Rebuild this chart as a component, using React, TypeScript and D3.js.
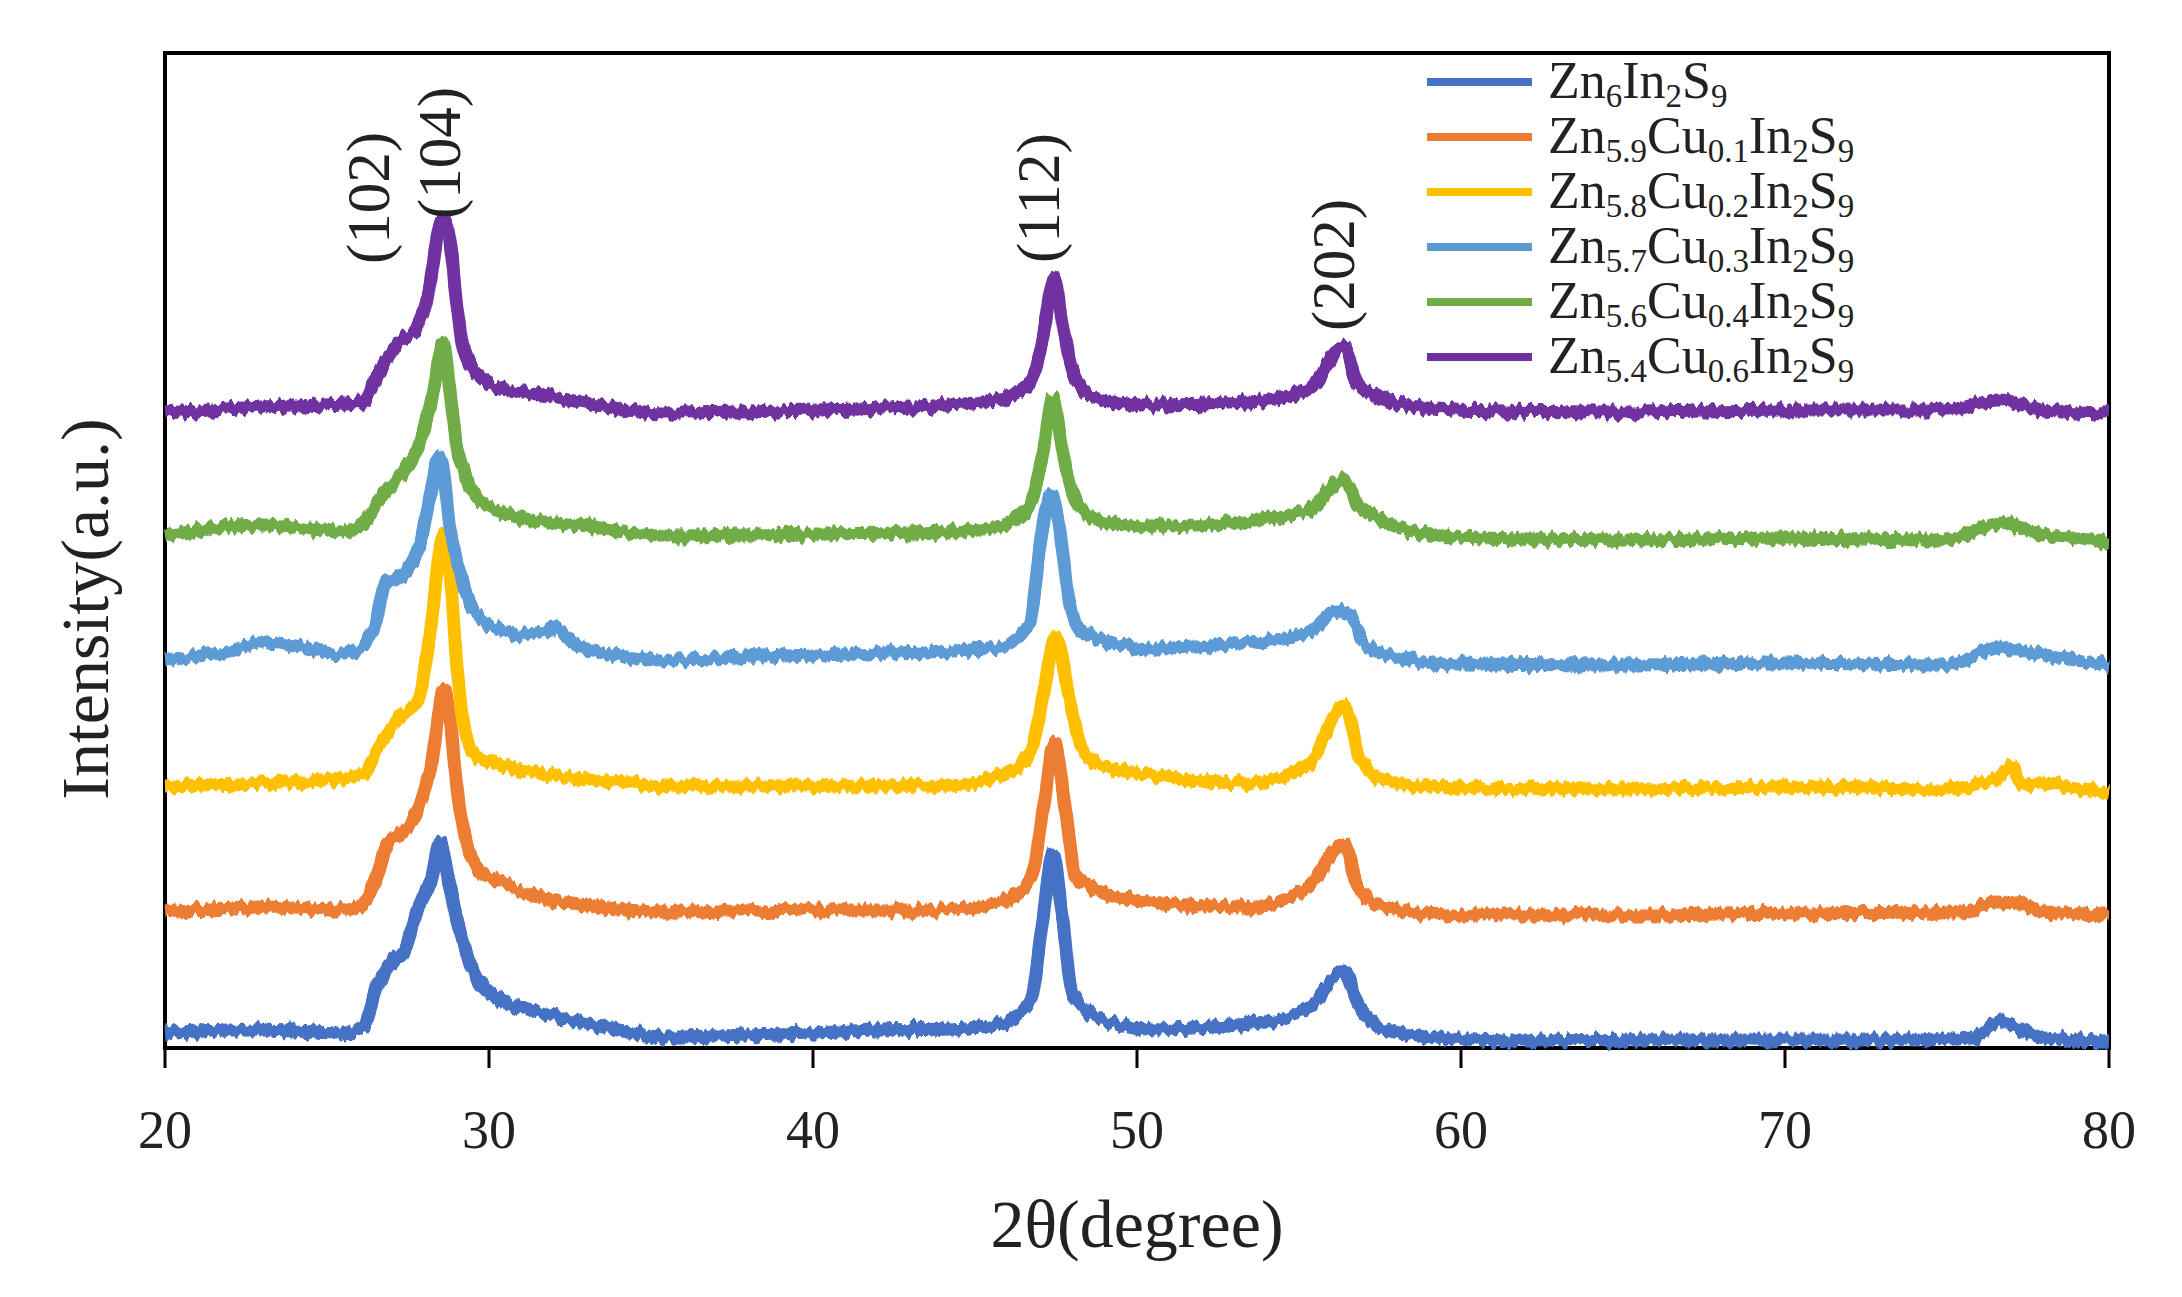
import React from 'react';
import * as d3 from 'd3';

type Pt = [number, number];

// 2θ (degree) vs intensity (a.u., stacked offsets included)
const zn6In2S9: Pt[] = [[20,15],[22,18],[24,17],[25.5,15],[26.1,21],[26.6,66],[26.9,82],[27.4,99],[27.8,139],[28.2,167],[28.5,206],[28.8,161],[29.2,105],[29.7,66],[30.3,49],[31.3,38],[32.8,26],[34,18],[35.4,11],[38,13],[40,15],[42,18],[44.2,19],[45.8,24],[46.7,46],[47.1,130],[47.4,194],[47.7,130],[48.0,56],[48.8,30],[50.4,19],[53.5,24],[55.3,40],[56.4,77],[56.8,46],[57.6,19],[59.7,9],[62,7],[66,8],[70,8],[74,8],[75.8,10],[76.6,27],[77.3,18],[78,10],[80,7]];
const zn59Cu01: Pt[] = [[20,136],[23,141],[25.5,138],[26.1,144],[26.6,178],[26.9,206],[27.4,217],[27.8,239],[28.2,279],[28.6,357],[28.8,329],[29.0,262],[29.3,206],[29.7,178],[30.3,167],[31.3,153],[32.8,144],[35.4,136],[40,138],[44.2,138],[45.8,146],[46.7,167],[47.1,236],[47.45,305],[47.8,236],[48.1,172],[48.8,157],[50.4,146],[53.5,141],[55.3,162],[56.4,204],[56.8,162],[57.6,141],[59.7,133],[65,133],[70,135],[75.5,136],[76.4,146],[77.2,145],[78,136],[80,133]];
const zn58Cu02: Pt[] = [[20,262],[23,265],[25.5,270],[26.1,273],[26.6,301],[27.2,329],[27.8,346],[28.2,419],[28.6,514],[28.8,475],[29.0,385],[29.3,312],[29.7,290],[30.3,284],[31.3,276],[32.8,270],[35.4,262],[40,262],[44.2,262],[45.8,273],[46.7,294],[47.1,352],[47.5,411],[47.9,352],[48.3,299],[48.8,284],[50.4,273],[53.5,265],[55.3,284],[56.4,342],[56.9,289],[57.6,268],[59.7,260],[65,259],[70,261],[75,259],[76.5,270],[77.0,281],[77.3,264],[78.5,262],[80,255]];
const zn57Cu03: Pt[] = [[20,388],[22,397],[23,405],[24,402],[25.5,394],[26.1,402],[26.5,425],[26.8,464],[27.4,475],[27.9,509],[28.2,554],[28.4,587],[28.5,590],[28.8,520],[29.2,464],[29.7,430],[30.3,419],[31,413],[32,419],[32.8,402],[35.4,388],[40,393],[44.2,397],[45.8,400],[46.7,426],[47.0,501],[47.35,553],[47.6,522],[47.9,448],[48.3,416],[50.4,400],[53.5,405],[55.3,416],[56.2,437],[56.6,432],[57.0,405],[57.6,395],[59.7,384],[65,383],[70,385],[75,383],[76.6,401],[78,393],[80,383]];
const zn56Cu04: Pt[] = [[20,512],[23,523],[25.5,517],[26.1,523],[26.6,548],[27.2,571],[27.8,599],[28.2,644],[28.6,705],[28.8,655],[29.0,604],[29.3,571],[29.7,548],[30.3,537],[31.3,528],[32.8,523],[35.4,512],[40,514],[44.2,516],[45.8,522],[46.7,543],[47.1,596],[47.4,649],[47.7,596],[48.1,548],[48.8,527],[50.4,522],[53.5,527],[55.3,538],[56.4,569],[56.8,543],[57.6,527],[59.7,511],[65,508],[70,510],[75,508],[76.6,525],[78,513],[80,507]];
const zn54Cu06: Pt[] = [[20,635],[23,641],[25.5,644],[26.1,646],[26.55,672],[27.2,705],[27.8,722],[28.2,767],[28.4,812],[28.6,829],[28.8,806],[29.0,745],[29.2,700],[29.7,672],[30.3,660],[31.3,655],[32.8,646],[35.4,635],[40,638],[44.2,643],[45.8,649],[46.7,665],[47.1,712],[47.45,770],[47.7,723],[48.1,670],[48.8,649],[50.4,643],[53.5,646],[55.3,659],[56.4,702],[56.8,665],[57.6,649],[59.7,638],[65,636],[70,638],[75,638],[76.6,648],[78,638],[80,635]];

// legend formulas: [text, isSubscript] parts
const legendNames: [string, boolean][][] = [
  [['Zn', false], ['6', true], ['In', false], ['2', true], ['S', false], ['9', true]],
  [['Zn', false], ['5.9', true], ['Cu', false], ['0.1', true], ['In', false], ['2', true], ['S', false], ['9', true]],
  [['Zn', false], ['5.8', true], ['Cu', false], ['0.2', true], ['In', false], ['2', true], ['S', false], ['9', true]],
  [['Zn', false], ['5.7', true], ['Cu', false], ['0.3', true], ['In', false], ['2', true], ['S', false], ['9', true]],
  [['Zn', false], ['5.6', true], ['Cu', false], ['0.4', true], ['In', false], ['2', true], ['S', false], ['9', true]],
  [['Zn', false], ['5.4', true], ['Cu', false], ['0.6', true], ['In', false], ['2', true], ['S', false], ['9', true]],
];
const seriesData: Pt[][] = [zn6In2S9, zn59Cu01, zn58Cu02, zn57Cu03, zn56Cu04, zn54Cu06];
const seriesColors = ['#4472C4', '#ED7D31', '#FFC000', '#5B9BD5', '#70AD47', '#7030A0'];

const xTicks = [20, 30, 40, 50, 60, 70, 80];
const peakLabels = ['(102)', '(104)', '(112)', '(202)'];
const peakLabelX = [26.9, 29.1, 47.6, 56.7];   // 2θ of label baseline
const peakLabelY = [850, 895, 850, 783];       // intensity at label centre

const W = 2182, H = 1297;
const L = 165, R = 2109, T = 53, B = 1048;
const FONT = '"Liberation Serif", "Times New Roman", serif';

export default function App() {
  const x = d3.scaleLinear().domain([20, 80]).range([L, R]);
  const y = d3.scaleLinear().domain([0, 995]).range([B, T]);
  const line = d3.line<Pt>().x(d => x(d[0])).y(d => y(d[1])).curve(d3.curveMonotoneX);

  const legX0 = 1427, legX1 = 1532, legTextX = 1548, legY0 = 82, legStep = 55;

  return (
    <svg width={W} height={H} style={{ position: 'absolute', left: 0, top: 0, background: '#fff' }} fontFamily={FONT}>
      <defs>
        <filter id="rough" x="-2%" y="-10%" width="104%" height="120%">
          <feTurbulence type="fractalNoise" baseFrequency="0.18 0.03" numOctaves={2} seed={7} result="n" />
          <feColorMatrix in="n" type="matrix" values="0 0 0 0 0.5  0 1 0 0 0  0 0 1 0 0  0 0 0 0 1" result="m" />
          <feDisplacementMap in="SourceGraphic" in2="m" scale={13} xChannelSelector="R" yChannelSelector="G" />
        </filter>
      </defs>
      <rect x={0} y={0} width={W} height={H} fill="#fff" />
      {/* frame */}
      <rect x={L} y={T} width={R - L} height={B - T} fill="none" stroke="#000" strokeWidth={4} />
      {xTicks.map(t => (
        <g key={t}>
          <line x1={x(t)} x2={x(t)} y1={B} y2={B + 20} stroke="#000" strokeWidth={3} />
          <text x={x(t)} y={1148} fontSize={54} textAnchor="middle" fill="#222">{t}</text>
        </g>
      ))}
      {/* series */}
      <g filter="url(#rough)">
        {seriesData.map((s, i) => (
          <path key={i} d={line(s) || ''} fill="none" stroke={seriesColors[i]} strokeWidth={13}
            strokeLinejoin="round" strokeLinecap="butt" />
        ))}
      </g>
      {/* peak labels */}
      {peakLabels.map((p, i) => (
        <text key={p} transform={`translate(${x(peakLabelX[i])},${y(peakLabelY[i])}) rotate(-90)`}
          fontSize={61} textAnchor="middle" fill="#222">{p}</text>
      ))}
      {/* legend */}
      {legendNames.map((parts, i) => {
        const ly = legY0 + i * legStep;
        return (
          <g key={i}>
            <line x1={legX0} x2={legX1} y1={ly} y2={ly} stroke={seriesColors[i]} strokeWidth={8} />
            <text x={legTextX} y={ly + 16} fontSize={52} fill="#222">
              {parts.map(([t, sub], j) => (
                <tspan key={j} fontSize={sub ? 33 : 52} dy={j === 0 ? 0 : (sub ? 9 : (parts[j - 1][1] ? -9 : 0))}>{t}</tspan>
              ))}
            </text>
          </g>
        );
      })}
      {/* axis titles */}
      <text x={1137} y={1247} fontSize={68} textAnchor="middle" fill="#222">2θ(degree)</text>
      <text transform="translate(108,609) rotate(-90)" fontSize={68} textAnchor="middle" fill="#222">Intensity(a.u.)</text>
    </svg>
  );
}
